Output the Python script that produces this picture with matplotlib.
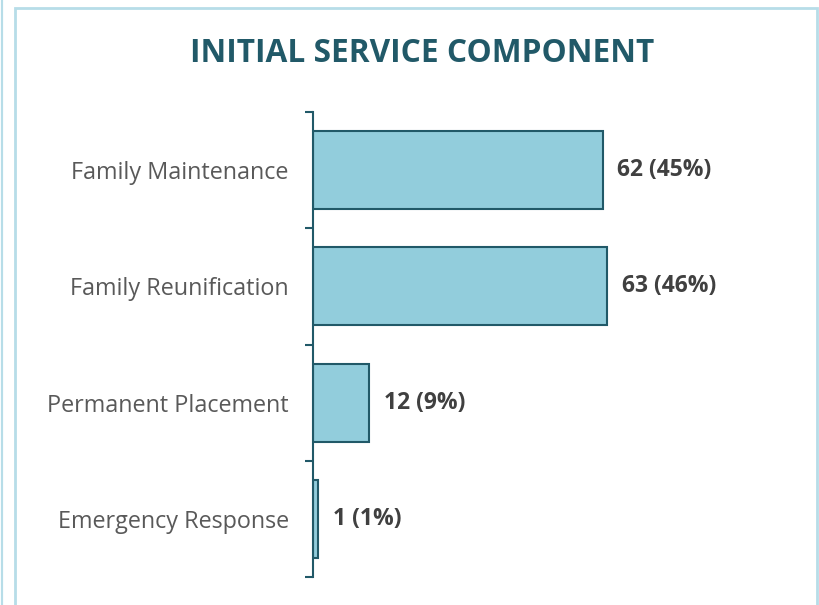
import matplotlib.pyplot as plt
from matplotlib.patches import Rectangle

categories = ["Family Maintenance", "Family Reunification", "Permanent Placement", "Emergency Response"]
counts = [62, 63, 12, 1]
percents = [45, 46, 9, 1]

bar_color = "#92cddc"
edge_color = "#215968"
frame_color = "#b7dde8"

fig = plt.figure(figsize=(8.19, 6.05), dpi=100)
fig.patch.set_facecolor("white")

# light frame around the chart area
fig.patches.append(Rectangle((15 / 819, -0.01), 802 / 819, (605 - 8) / 605 + 0.01,
                             transform=fig.transFigure, fill=False,
                             edgecolor=frame_color, linewidth=2))
fig.patches.append(Rectangle((2 / 819, -0.01), 0.0, 1.02,
                             transform=fig.transFigure, fill=False,
                             edgecolor=frame_color, linewidth=1.5))

ax = fig.add_axes([313 / 819, 28 / 605, 467 / 819, 465 / 605])
y = list(range(len(categories)))
ax.barh(y, counts, height=0.67, color=bar_color, edgecolor=edge_color, linewidth=1.5)
ax.set_xlim(0, 100)
ax.set_ylim(len(categories) - 0.5, -0.5)

# category boundaries carry the tick marks, labels sit at the bar centres
ax.set_yticks([i - 0.5 for i in range(len(categories) + 1)], minor=False)
ax.set_yticklabels([])
ax.set_yticks(y, minor=True)
ax.set_yticklabels(categories, minor=True, fontsize=16.8, color="#595959", family="Open Sans")
ax.tick_params(axis="y", which="major", length=6, width=1.5, color=edge_color)
ax.tick_params(axis="y", which="minor", length=0, pad=17.5)
ax.set_xticks([])

for s in ["top", "right", "bottom"]:
    ax.spines[s].set_visible(False)
ax.spines["left"].set_color(edge_color)
ax.spines["left"].set_linewidth(1.5)
ax.patch.set_visible(False)

for i, (c, p) in enumerate(zip(counts, percents)):
    ax.text(c + 3.2, i, f"{c} ({p}%)", va="center", ha="left", fontsize=16.5,
            fontweight="bold", color="#404040", family="Open Sans")

fig.text(422 / 819, 1 - 53 / 605, "INITIAL SERVICE COMPONENT", ha="center", va="center",
         fontsize=22.8, fontweight="bold", color="#215968", family="Open Sans")

fig.savefig("out.png", dpi=100)
